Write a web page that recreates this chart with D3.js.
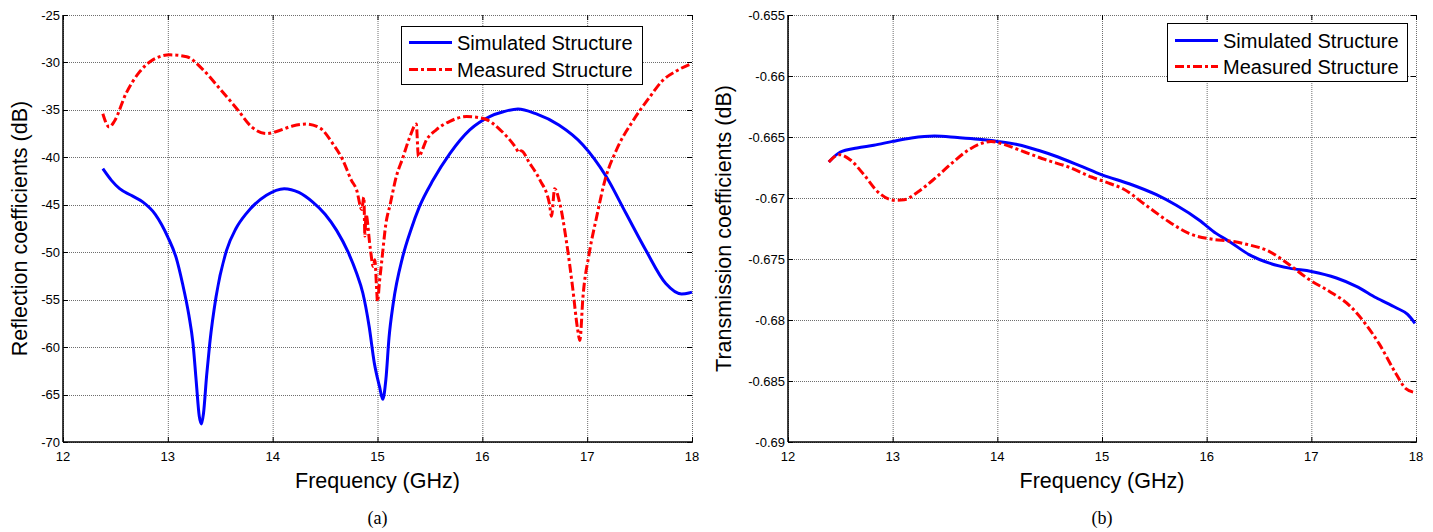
<!DOCTYPE html>
<html>
<head>
<meta charset="utf-8">
<script src="https://cdn.jsdelivr.net/npm/d3@7"></script>
<style>
  body { margin: 0; background: #fff; }
  svg { display: block; font-family: "Liberation Sans", Arial, sans-serif; }
</style>
</head>
<body>
<svg id="chart" width="1433" height="532"></svg>
<script>
var freqTicks = [12, 13, 14, 15, 16, 17, 18];
var reflTicks = [-25, -30, -35, -40, -45, -50, -55, -60, -65, -70];
var transTicks = [-0.655, -0.66, -0.665, -0.67, -0.675, -0.68, -0.685, -0.69];
var seriesNames = ["Simulated Structure", "Measured Structure"];

// (a) reflection, [GHz, dB]
var reflSimulated = [
  [12.38,-41.2],[12.46,-42.4],[12.54,-43.3],[12.65,-44.0],[12.76,-44.7],[12.88,-46.0],
  [13.00,-48.4],[13.08,-50.6],[13.14,-53.3],[13.20,-56.6],[13.24,-59.6],[13.27,-63.5],
  [13.30,-67.3],[13.32,-68.1],[13.34,-67.0],[13.37,-63.0],[13.40,-59.6],[13.46,-54.7],
  [13.56,-49.8],[13.65,-47.5],[13.75,-45.9],[13.94,-44.0],[14.11,-43.3],[14.25,-43.7],
  [14.38,-44.7],[14.50,-46.0],[14.61,-47.7],[14.72,-50.0],[14.80,-52.2],[14.86,-54.3],
  [14.92,-57.8],[14.97,-61.7],[15.02,-64.2],[15.05,-65.5],[15.08,-63.4],[15.11,-59.0],
  [15.15,-55.4],[15.24,-50.5],[15.32,-47.6],[15.40,-45.2],[15.53,-42.4],[15.69,-39.6],
  [15.88,-37.1],[16.07,-35.7],[16.20,-35.2],[16.34,-34.9],[16.51,-35.4],[16.73,-36.6],
  [16.96,-38.7],[17.18,-42.0],[17.37,-45.9],[17.56,-49.8],[17.75,-53.3],[17.90,-54.4],
  [17.97,-54.3],[18.00,-54.2]
];
var reflMeasured = [
  [12.38,-35.4],[12.44,-36.8],[12.49,-36.2],[12.60,-33.3],[12.73,-31.0],[12.86,-29.7],
  [13.02,-29.2],[13.18,-29.4],[13.33,-30.7],[13.49,-32.7],[13.66,-34.9],[13.80,-36.8],
  [13.94,-37.5],[14.03,-37.3],[14.19,-36.7],[14.32,-36.5],[14.45,-36.9],[14.57,-38.5],
  [14.67,-40.3],[14.75,-42.4],[14.80,-43.4],[14.85,-45.5],[14.87,-44.2],[14.88,-48.3],
  [14.89,-46.0],[14.93,-49.5],[14.96,-51.5],[14.975,-50.8],[14.99,-53.5],[15.00,-55.2],
  [15.02,-53.0],[15.04,-51.0],[15.08,-47.0],[15.12,-45.0],[15.18,-42.0],[15.24,-40.1],
  [15.31,-37.8],[15.37,-36.5],[15.39,-39.9],[15.47,-38.1],[15.56,-37.1],[15.69,-36.2],
  [15.85,-35.7],[16.01,-35.9],[16.17,-37.1],[16.32,-39.0],[16.35,-39.5],[16.37,-39.3],
  [16.45,-40.6],[16.55,-42.4],[16.64,-44.9],[16.66,-46.2],[16.69,-43.3],[16.74,-44.9],
  [16.80,-48.7],[16.86,-53.6],[16.91,-58.2],[16.93,-59.3],[16.96,-54.7],[17.02,-50.1],
  [17.09,-46.3],[17.17,-42.4],[17.28,-39.2],[17.44,-36.1],[17.60,-33.6],[17.72,-31.9],
  [17.85,-30.9],[18.00,-30.1]
];

// (b) transmission, [GHz, dB]
var transSimulated = [
  [12.39,-0.66705],[12.50,-0.66623],[12.66,-0.66590],[12.82,-0.66568],[13.00,-0.66536],
  [13.18,-0.66508],[13.40,-0.66492],[13.62,-0.66505],[13.82,-0.66519],[14.00,-0.66536],
  [14.20,-0.66563],[14.39,-0.66609],[14.58,-0.66664],[14.78,-0.66732],[15.00,-0.66810],
  [15.26,-0.66883],[15.52,-0.66973],[15.71,-0.67060],[15.93,-0.67182],[16.09,-0.67290],
  [16.22,-0.67358],[16.41,-0.67466],[16.60,-0.67534],[16.79,-0.67575],[17.00,-0.67602],
  [17.24,-0.67656],[17.43,-0.67724],[17.62,-0.67818],[17.81,-0.67900],[17.92,-0.67954],
  [17.99,-0.68027]
];
var transMeasured = [
  [12.39,-0.66705],[12.49,-0.66645],[12.60,-0.66691],[12.73,-0.66814],[12.86,-0.66951],
  [13.02,-0.67019],[13.11,-0.67014],[13.24,-0.66951],[13.40,-0.66842],[13.56,-0.66719],
  [13.72,-0.66609],[13.86,-0.66549],[13.94,-0.66536],[14.07,-0.66563],[14.26,-0.66623],
  [14.46,-0.66686],[14.68,-0.66746],[14.90,-0.66828],[15.08,-0.66883],[15.20,-0.66924],
  [15.42,-0.67060],[15.64,-0.67195],[15.83,-0.67290],[16.06,-0.67339],[16.22,-0.67352],
  [16.38,-0.67379],[16.60,-0.67439],[16.79,-0.67547],[16.98,-0.67669],[17.17,-0.67764],
  [17.37,-0.67886],[17.52,-0.68035],[17.65,-0.68198],[17.81,-0.68442],[17.90,-0.68560],
  [18.00,-0.68597]
];

var svg = d3.select("#chart");
var BLUE = "#0000ff", RED = "#ff0000";
var DASHDOT = "9,3,3,3";

function drawPanel(p) {
  var x = d3.scaleLinear().domain([12, 18]).range([p.left, p.right]);
  var y = d3.scaleLinear().domain([p.yTicks[p.yTicks.length - 1], p.yTicks[0]]).range([p.bottom, p.top]);
  var g = svg.append("g");

  // dotted grid
  g.append("g").selectAll("line").data(freqTicks).enter().append("line")
    .attr("x1", d => x(d) + 0.5).attr("x2", d => x(d) + 0.5)
    .attr("y1", p.top).attr("y2", p.bottom)
    .attr("stroke", "#6e6e6e").attr("stroke-dasharray", "1,1");
  g.append("g").selectAll("line").data(p.yTicks).enter().append("line")
    .attr("y1", d => Math.round(y(d)) + 0.5).attr("y2", d => Math.round(y(d)) + 0.5)
    .attr("x1", p.left).attr("x2", p.right)
    .attr("stroke", "#6e6e6e").attr("stroke-dasharray", "1,1");

  // inward ticks on all four sides
  var tk = g.append("g").attr("stroke", "#000").attr("stroke-width", 1);
  freqTicks.forEach(function(d) {
    tk.append("line").attr("x1", x(d) + 0.5).attr("x2", x(d) + 0.5).attr("y1", p.bottom).attr("y2", p.bottom - 5);
    tk.append("line").attr("x1", x(d) + 0.5).attr("x2", x(d) + 0.5).attr("y1", p.top).attr("y2", p.top + 5);
  });
  p.yTicks.forEach(function(d) {
    var yy = Math.round(y(d)) + 0.5;
    tk.append("line").attr("x1", p.left).attr("x2", p.left + 5).attr("y1", yy).attr("y2", yy);
    tk.append("line").attr("x1", p.right).attr("x2", p.right - 5).attr("y1", yy).attr("y2", yy);
  });

  // left and bottom axis lines
  g.append("line").attr("x1", p.left).attr("x2", p.left).attr("y1", p.top).attr("y2", p.bottom)
    .attr("stroke", "#000").attr("stroke-width", 1.5);
  g.append("line").attr("x1", p.left).attr("x2", p.right + 1).attr("y1", p.bottom).attr("y2", p.bottom)
    .attr("stroke", "#000").attr("stroke-width", 1.5);

  // tick labels
  g.append("g").selectAll("text").data(freqTicks).enter().append("text")
    .attr("x", d => x(d)).attr("y", p.bottom + 19)
    .attr("text-anchor", "middle").style("font-size", "13px").text(d => d);
  g.append("g").selectAll("text").data(p.yTicks).enter().append("text")
    .attr("x", p.left - 3).attr("y", d => y(d)).attr("dy", "0.35em")
    .attr("text-anchor", "end").style("font-size", "13px").text(d => String(d));

  // axis titles
  g.append("text").attr("x", (p.left + p.right) / 2).attr("y", p.bottom + 46)
    .attr("text-anchor", "middle").style("font-size", "21.5px").text("Frequency (GHz)");
  g.append("text")
    .attr("transform", "translate(" + p.yLabelX + "," + ((p.top + p.bottom) / 2) + ") rotate(-90)")
    .attr("text-anchor", "middle").style("font-size", "21.5px").text(p.yLabel);
  g.append("text").attr("x", (p.left + p.right) / 2).attr("y", 524)
    .attr("text-anchor", "middle").style("font-family", "'Liberation Serif', 'Times New Roman', serif")
    .style("font-size", "18px").text(p.caption);

  // curves
  var line = d3.line().x(d => x(d[0])).y(d => y(d[1])).curve(d3.curveMonotoneX);
  g.append("path").datum(p.sim).attr("d", line)
    .attr("fill", "none").attr("stroke", BLUE).attr("stroke-width", 3).attr("stroke-linejoin", "round");
  g.append("path").datum(p.meas).attr("d", line)
    .attr("fill", "none").attr("stroke", RED).attr("stroke-width", 3)
    .attr("stroke-dasharray", DASHDOT);

  // legend
  var L = p.legend;
  var lg = g.append("g");
  lg.append("rect").attr("x", L.x + 0.5).attr("y", L.y + 0.5).attr("width", L.w).attr("height", L.h)
    .attr("fill", "#fff").attr("stroke", "#000").attr("stroke-width", 1);
  [[BLUE, null], [RED, DASHDOT]].forEach(function(s, i) {
    var ry = L.y + L.row0 + i * L.rowGap;
    lg.append("line").attr("x1", L.x + 8).attr("x2", L.x + 51).attr("y1", ry).attr("y2", ry)
      .attr("stroke", s[0]).attr("stroke-width", 3).attr("stroke-dasharray", s[1]);
    lg.append("text").attr("x", L.x + 56).attr("y", ry).attr("dy", "0.36em")
      .style("font-size", "20px").text(seriesNames[i]);
  });
}

drawPanel({
  left: 63, right: 692, top: 15, bottom: 442,
  yTicks: reflTicks, yLabel: "Reflection coefficients (dB)", yLabelX: 27, caption: "(a)",
  sim: reflSimulated, meas: reflMeasured,
  legend: {x: 401, y: 26, w: 241, h: 58, row0: 16.5, rowGap: 27}
});
drawPanel({
  left: 788, right: 1416, top: 15, bottom: 442,
  yTicks: transTicks, yLabel: "Transmission coefficients (dB)", yLabelX: 731, caption: "(b)",
  sim: transSimulated, meas: transMeasured,
  legend: {x: 1167, y: 23, w: 240, h: 58, row0: 17.5, rowGap: 26}
});
</script>
</body>
</html>
